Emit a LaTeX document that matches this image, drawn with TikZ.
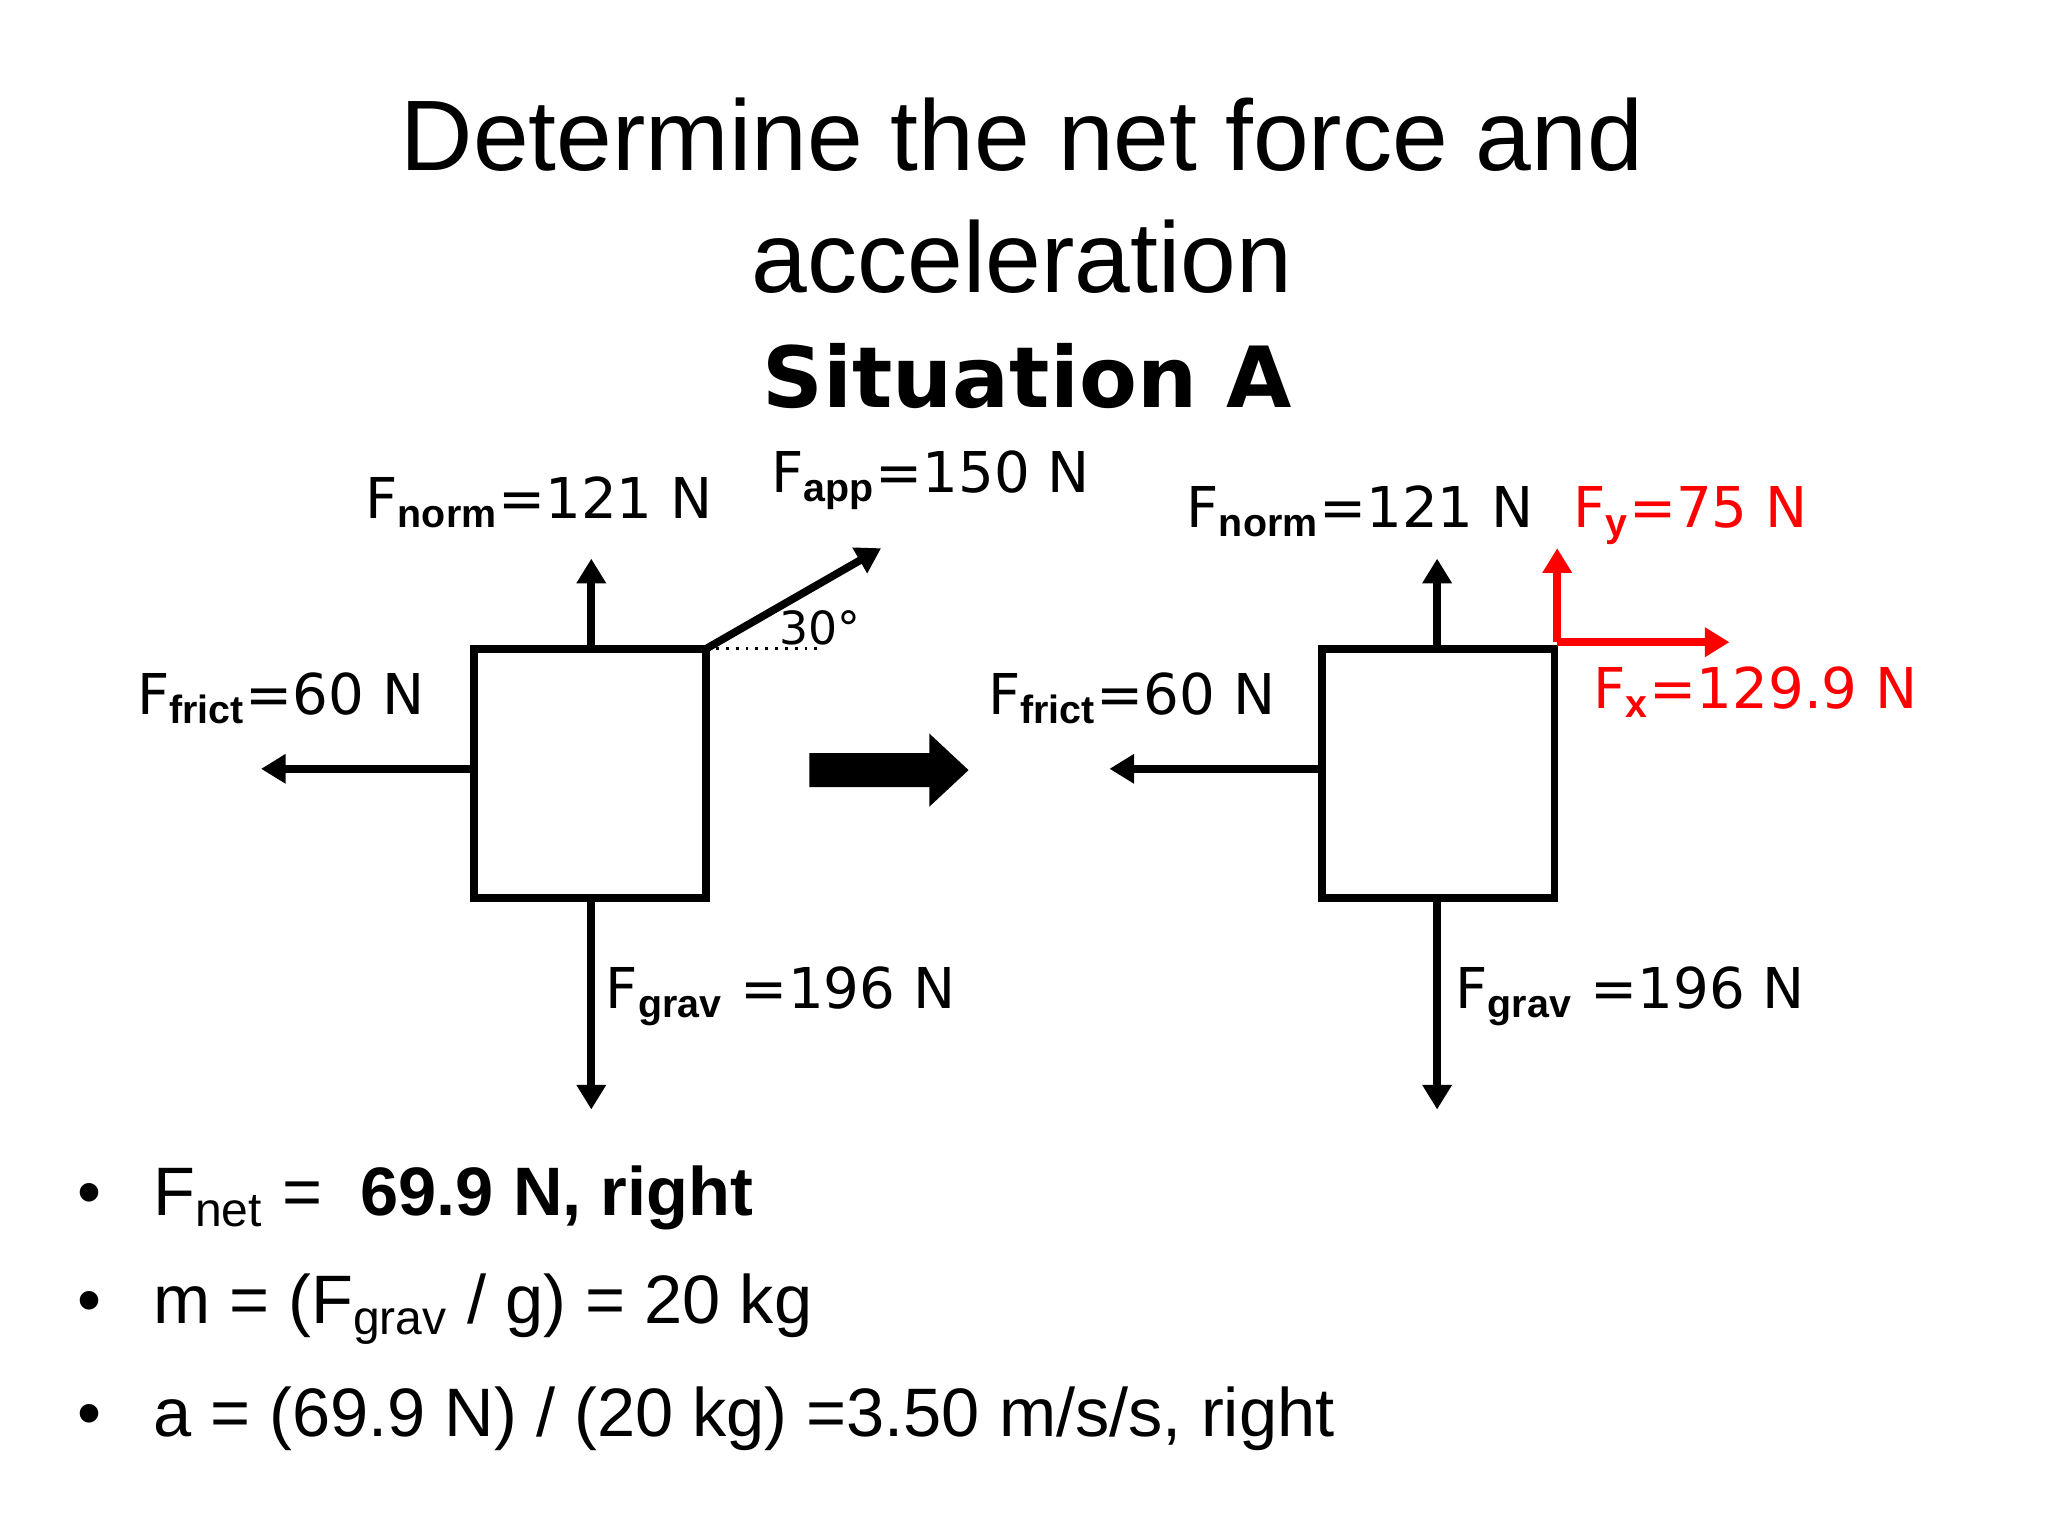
\documentclass[tikz,border=0pt]{standalone}
\usepackage{fontspec}
\setmainfont{Liberation Sans}
\newfontfamily\pix{DejaVu Sans}
\usetikzlibrary{arrows.meta}
\begin{document}
\begin{tikzpicture}[x=0.013053cm,y=-0.013053cm,
  fb/.style={line width=2.2pt},
  force/.style={line width=2.2pt,-{Triangle[length=7pt,width=8pt]}},
  lab/.style={font=\pix\fontsize{16}{19}\selectfont},
  title/.style={font=\fontsize{28.5}{34}\selectfont},
  bul/.style={font=\fontsize{19.5}{24}\selectfont,anchor=west}]
\useasboundingbox (0,0) rectangle (1569,1177);
\node[title] (t1) at (783,103) {Determine the net force and};
\node[title] (t2) at (783,197) {acceleration};
\node[font=\pix\bfseries\fontsize{24}{28}\selectfont] (t3) at (787,288) {Situation A};
% left diagram
\draw[fb] (363,497) rectangle (541,688);
\coordinate (LT) at (453,497); \coordinate (LB) at (453,688);
\coordinate (LL) at (363,589); \coordinate (LC) at (541,497);
\coordinate (LN) at (453,428); \coordinate (LG) at (453,850);
\coordinate (LF) at (200,589); \coordinate (LA) at (675,420);
\coordinate (LD) at (630,497);
\draw[force] (LT) -- (LN);
\draw[force] (LB) -- (LG);
\draw[force] (LL) -- (LF);
\draw[force] (LC) -- (LA);
\draw[thick,dotted] (LC) -- (LD);
\node[lab,font=\pix\fontsize{13}{15}\selectfont] (a30) at (628,481) {30°};
\node[lab] (ln) at (413,385) {F$_{\mathbf{norm}}$=121 N};
\node[lab] (la) at (713,368) {F$_{\mathbf{app}}$=150 N};
\node[lab] (lf) at (215,535) {F$_{\mathbf{frict}}$=60 N};
\node[lab] (lg) at (598,763) {F$_{\mathbf{grav}}$ =196 N};
% block arrow
\fill (620,577) -- (712,577) -- (712,562) -- (742,590) -- (712,618) -- (712,603) -- (620,603) -- cycle;
% right diagram
\draw[fb] (1013,497) rectangle (1191,688);
\coordinate (RT) at (1101,497); \coordinate (RB) at (1101,688);
\coordinate (RL) at (1013,589); \coordinate (RC) at (1193,492);
\coordinate (RN) at (1101,428); \coordinate (RG) at (1101,850);
\coordinate (RF) at (850,589); \coordinate (RY) at (1193,420);
\coordinate (RX) at (1325,492);
\draw[force] (RT) -- (RN);
\draw[force] (RB) -- (RG);
\draw[force] (RL) -- (RF);
\draw[force,red] (RC) -- (RY);
\draw[force,red] (RC) -- (RX);
\node[lab] (rn) at (1042,392) {F$_{\mathbf{norm}}$=121 N};
\node[lab,text=red] (ry) at (1295,395) {F$_{\mathbf{y}}$=75 N};
\node[lab,text=red] (rx) at (1345,530) {F$_{\mathbf{x}}$=129.9 N};
\node[lab] (rf) at (867,535) {F$_{\mathbf{frict}}$=60 N};
\node[lab] (rg) at (1249,763) {F$_{\mathbf{grav}}$ =196 N};
% bullets
\node[bul] (b1) at (50,918) {\textbullet\hspace{0.75em}F\textsubscript{net} =\ \ \textbf{69.9 N, right}};
\node[bul] (b2) at (50,1003) {\textbullet\hspace{0.75em}m = (F\textsubscript{grav} / g) = 20 kg};
\node[bul] (b3) at (50,1087) {\textbullet\hspace{0.75em}a = (69.9 N) / (20 kg) =3.50 m/s/s, right};
\end{tikzpicture}
\end{document}
